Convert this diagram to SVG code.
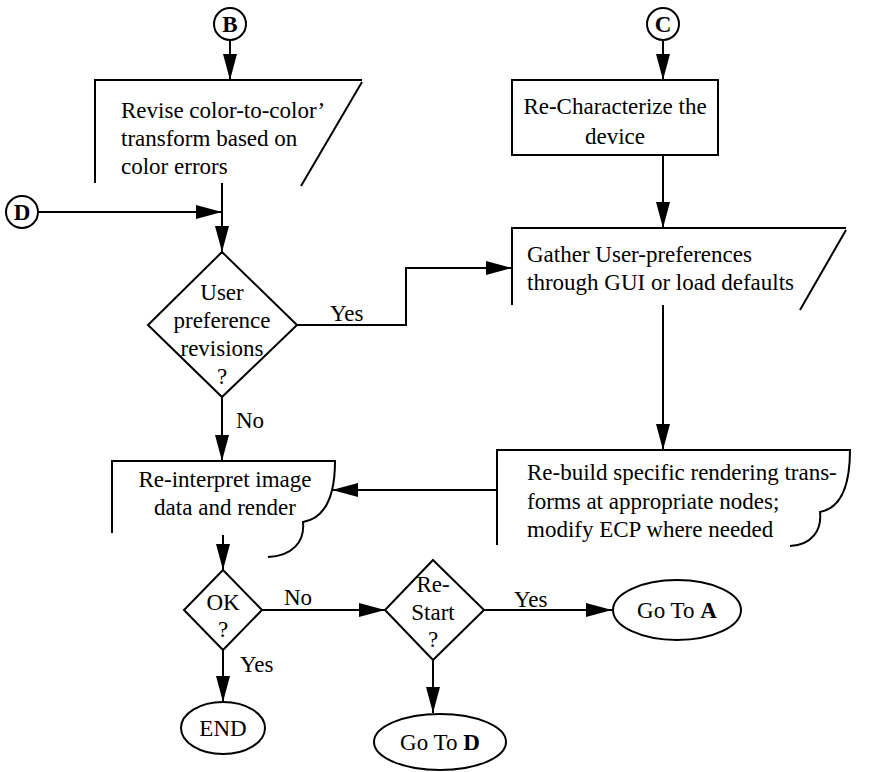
<svg xmlns="http://www.w3.org/2000/svg" width="870" height="772" viewBox="0 0 870 772">
  <style>
    .ln { fill: none; stroke: #000; stroke-width: 2; }
    .sh { fill: #fff; stroke: #000; stroke-width: 2; }
    .tx { font-family: "Liberation Serif", Tinos, "Times New Roman", "DejaVu Serif", serif; font-size: 23px; fill: #000; }
    .c { text-anchor: middle; }
    .b { font-weight: bold; }
  </style>
  <defs>
    <marker id="ah" viewBox="0 0 26 14" refX="26" refY="7" markerWidth="26" markerHeight="14" markerUnits="userSpaceOnUse" orient="auto">
      <path d="M0,0 L26,7 L0,14 z" fill="#000"/>
    </marker>
  </defs>

  <!-- connectors -->
  <g id="connectors" class="ln" marker-end="url(#ah)">
    <path d="M230,40 V80"/>
    <path d="M38,212 H222"/>
    <path d="M222,183 V252"/>
    <path d="M297,325 H406 V268 H512"/>
    <path d="M222,397 V461"/>
    <path d="M663,40 V80"/>
    <path d="M663,155 V228"/>
    <path d="M663,305 V450"/>
    <path d="M497,490 H332"/>
    <path d="M223,535 V570"/>
    <path d="M223,650 V702"/>
    <path d="M262,610 H385"/>
    <path d="M484,610 H612"/>
    <path d="M433,660 V713"/>
  </g>

  <!-- connector labels -->
  <g id="labels" class="tx">
    <text x="330" y="321">Yes</text>
    <text x="236" y="428">No</text>
    <text x="284" y="605">No</text>
    <text x="514" y="607">Yes</text>
    <text x="240" y="672">Yes</text>
  </g>

  <g id="conn-B">
    <circle class="sh" cx="230" cy="24" r="16"/>
    <text class="tx c b" x="230" y="32">B</text>
  </g>

  <g id="conn-C">
    <circle class="sh" cx="663" cy="24" r="16"/>
    <text class="tx c b" x="663" y="32">C</text>
  </g>

  <g id="conn-D">
    <circle class="sh" cx="22" cy="212" r="16"/>
    <text class="tx c b" x="22" y="220">D</text>
  </g>

  <g id="revise">
    <path class="ln" d="M95,183 V80 H362 M362,82 L301,186"/>
    <text class="tx" x="121" y="118">Revise color-to-color’</text>
    <text class="tx" x="121" y="146">transform based on</text>
    <text class="tx" x="121" y="174">color errors</text>
  </g>

  <g id="user-pref">
    <path class="sh" d="M222,252 L297,325 L222,397 L148,325 z"/>
    <text class="tx c" x="222" y="300">User</text>
    <text class="tx c" x="222" y="328">preference</text>
    <text class="tx c" x="222" y="356">revisions</text>
    <text class="tx c" x="222" y="384">?</text>
  </g>

  <g id="recharacterize">
    <rect class="sh" x="512" y="80" width="206" height="75"/>
    <text class="tx c" x="615" y="114">Re-Characterize the</text>
    <text class="tx c" x="615" y="144">device</text>
  </g>

  <g id="gather">
    <path class="ln" d="M512,305 V228 H846 M846,230 L800,310"/>
    <text class="tx" x="527" y="262">Gather User-preferences</text>
    <text class="tx" x="527" y="290">through GUI or load defaults</text>
  </g>

  <g id="rebuild">
    <path class="ln" d="M497,545 V450 H850 C850,485 842,508 820,512 C822,530 812,545 790,546"/>
    <text class="tx" x="527" y="480">Re-build specific rendering trans-</text>
    <text class="tx" x="527" y="509">forms at appropriate nodes;</text>
    <text class="tx" x="527" y="537">modify ECP where needed</text>
  </g>

  <g id="reinterpret">
    <path class="ln" d="M112,533 V461 H335 C335,494 326,518 303,522 C305,542 292,556 268,557"/>
    <text class="tx c" x="225" y="487">Re-interpret image</text>
    <text class="tx c" x="225" y="515">data and render</text>
  </g>

  <g id="ok">
    <path class="sh" d="M223,570 L262,610 L223,650 L184,610 z"/>
    <text class="tx c" x="223" y="610">OK</text>
    <text class="tx c" x="223" y="637">?</text>
  </g>

  <g id="restart">
    <path class="sh" d="M433,560 L484,610 L433,660 L385,610 z"/>
    <text class="tx c" x="433" y="592">Re-</text>
    <text class="tx c" x="433" y="620">Start</text>
    <text class="tx c" x="433" y="647">?</text>
  </g>

  <g id="goto-a">
    <ellipse class="sh" cx="677" cy="610" rx="64" ry="30"/>
    <text class="tx c" x="677" y="618">Go To <tspan class="b">A</tspan></text>
  </g>

  <g id="end">
    <ellipse class="sh" cx="223" cy="728" rx="42" ry="26"/>
    <text class="tx c" x="223" y="736">END</text>
  </g>

  <g id="goto-d">
    <ellipse class="sh" cx="440" cy="742" rx="66" ry="28"/>
    <text class="tx c" x="440" y="750">Go To <tspan class="b">D</tspan></text>
  </g>
</svg>
